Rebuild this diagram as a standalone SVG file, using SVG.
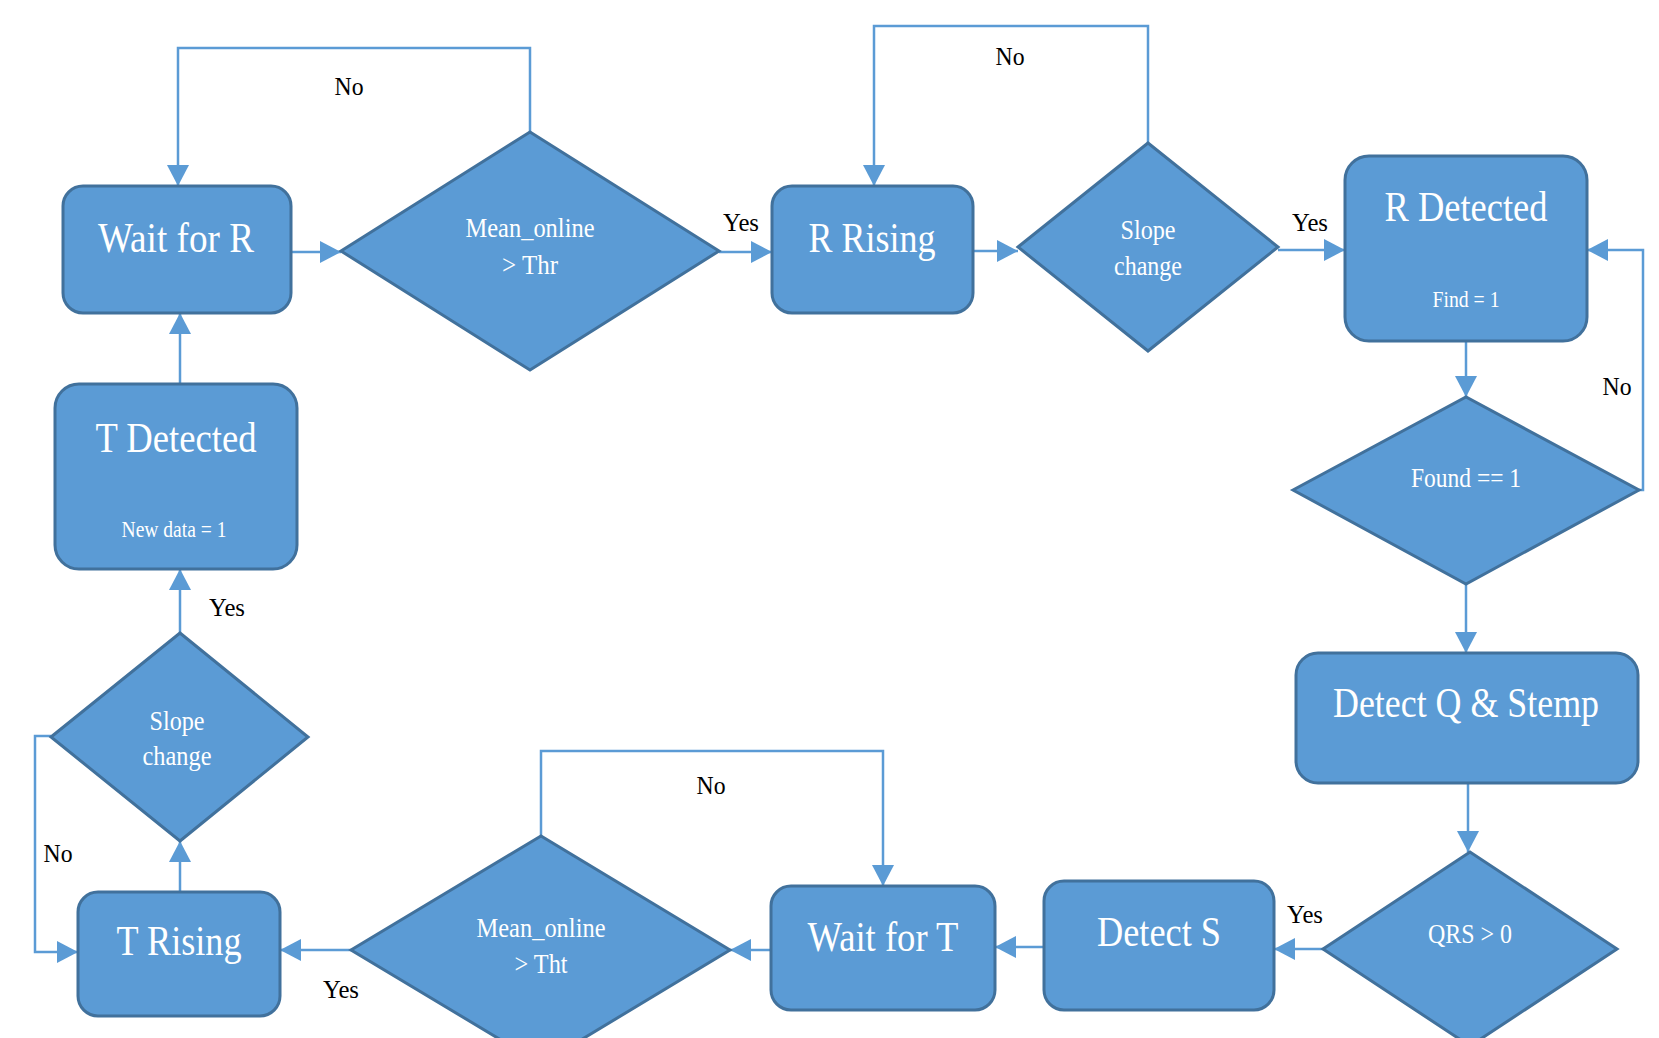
<svg xmlns="http://www.w3.org/2000/svg" width="1659" height="1038" viewBox="0 0 1659 1038">
<defs>
<style>
.node{fill:#5B9BD5;stroke:#41719C;stroke-width:3}
.conn{fill:none;stroke:#5B9BD5;stroke-width:2.5}
.t{font-family:"Liberation Serif","Times New Roman",serif;fill:#ffffff;text-anchor:middle}
.big{font-size:42px}
.mid{font-size:27px}
.sm{font-size:24px}
.lbl{font-family:"Liberation Serif","Times New Roman",serif;fill:#000000;font-size:26px;text-anchor:middle}
</style>
<marker id="ah" markerUnits="userSpaceOnUse" markerWidth="22" markerHeight="22" refX="21" refY="11" orient="auto">
<path d="M0,0 L21,11 L0,22 z" fill="#5B9BD5"/>
</marker>
</defs>
<rect width="1659" height="1038" fill="#ffffff"/>
<g id="connectors">
<path class="conn" d="M291,252 H341" marker-end="url(#ah)"/>
<path class="conn" d="M719,252 H772" marker-end="url(#ah)"/>
<path class="conn" d="M530,132 V48 H178 V186" marker-end="url(#ah)"/>
<path class="conn" d="M973,251 H1018" marker-end="url(#ah)"/>
<path class="conn" d="M1278,250 H1345" marker-end="url(#ah)"/>
<path class="conn" d="M1148,143 V26 H874 V186" marker-end="url(#ah)"/>
<path class="conn" d="M1466,341 V397" marker-end="url(#ah)"/>
<path class="conn" d="M1639,490 H1643 V250 H1587" marker-end="url(#ah)"/>
<path class="conn" d="M1466,584 V653" marker-end="url(#ah)"/>
<path class="conn" d="M1468,783 V852" marker-end="url(#ah)"/>
<path class="conn" d="M1323,949 H1274" marker-end="url(#ah)"/>
<path class="conn" d="M1044,947 H995" marker-end="url(#ah)"/>
<path class="conn" d="M771,950 H730" marker-end="url(#ah)"/>
<path class="conn" d="M541,836 V751 H883 V886" marker-end="url(#ah)"/>
<path class="conn" d="M351,950 H280" marker-end="url(#ah)"/>
<path class="conn" d="M180,892 V841" marker-end="url(#ah)"/>
<path class="conn" d="M51,736 H35 V952 H78" marker-end="url(#ah)"/>
<path class="conn" d="M180,633 V569" marker-end="url(#ah)"/>
<path class="conn" d="M180,384 V313" marker-end="url(#ah)"/>
<text class="lbl" x="349" y="95" textLength="29" lengthAdjust="spacingAndGlyphs">No</text>
<text class="lbl" x="741" y="231" textLength="36" lengthAdjust="spacingAndGlyphs">Yes</text>
<text class="lbl" x="1010" y="65" textLength="29" lengthAdjust="spacingAndGlyphs">No</text>
<text class="lbl" x="1310" y="231" textLength="36" lengthAdjust="spacingAndGlyphs">Yes</text>
<text class="lbl" x="1617" y="395" textLength="29" lengthAdjust="spacingAndGlyphs">No</text>
<text class="lbl" x="1305" y="923" textLength="36" lengthAdjust="spacingAndGlyphs">Yes</text>
<text class="lbl" x="711" y="794" textLength="29" lengthAdjust="spacingAndGlyphs">No</text>
<text class="lbl" x="341" y="998" textLength="36" lengthAdjust="spacingAndGlyphs">Yes</text>
<text class="lbl" x="58" y="862" textLength="29" lengthAdjust="spacingAndGlyphs">No</text>
<text class="lbl" x="227" y="616" textLength="36" lengthAdjust="spacingAndGlyphs">Yes</text>
</g>
<g id="wait-for-r">
<rect class="node" x="63" y="186" width="228" height="127" rx="20"/>
<text class="t big" x="176" y="252" textLength="156" lengthAdjust="spacingAndGlyphs">Wait for R</text>
</g>
<g id="mean-thr">
<polygon class="node" points="341,251 530,132 719,251 530,370"/>
<text class="t mid" x="530" y="237" textLength="129" lengthAdjust="spacingAndGlyphs">Mean_online</text>
<text class="t mid" x="530" y="274" textLength="56" lengthAdjust="spacingAndGlyphs">&gt; Thr</text>
</g>
<g id="r-rising">
<rect class="node" x="772" y="186" width="201" height="127" rx="20"/>
<text class="t big" x="872" y="252" textLength="127" lengthAdjust="spacingAndGlyphs">R Rising</text>
</g>
<g id="slope-r">
<polygon class="node" points="1018,247 1148,143 1278,247 1148,351"/>
<text class="t mid" x="1148" y="239" textLength="55" lengthAdjust="spacingAndGlyphs">Slope</text>
<text class="t mid" x="1148" y="275" textLength="68" lengthAdjust="spacingAndGlyphs">change</text>
</g>
<g id="r-detected">
<rect class="node" x="1345" y="156" width="242" height="185" rx="24"/>
<text class="t big" x="1466" y="221" textLength="163" lengthAdjust="spacingAndGlyphs">R Detected</text>
<text class="t sm" x="1466" y="307" textLength="67" lengthAdjust="spacingAndGlyphs">Find = 1</text>
</g>
<g id="found">
<polygon class="node" points="1293,490 1466,397 1639,490 1466,584"/>
<text class="t mid" x="1466" y="487" textLength="110" lengthAdjust="spacingAndGlyphs">Found == 1</text>
</g>
<g id="detect-q">
<rect class="node" x="1296" y="653" width="342" height="130" rx="22"/>
<text class="t big" x="1466" y="717" textLength="266" lengthAdjust="spacingAndGlyphs">Detect Q &amp; Stemp</text>
</g>
<g id="qrs">
<polygon class="node" points="1323,949 1470,852 1617,949 1470,1046"/>
<text class="t mid" x="1470" y="943" textLength="84" lengthAdjust="spacingAndGlyphs">QRS &gt; 0</text>
</g>
<g id="detect-s">
<rect class="node" x="1044" y="881" width="230" height="129" rx="20"/>
<text class="t big" x="1159" y="946" textLength="124" lengthAdjust="spacingAndGlyphs">Detect S</text>
</g>
<g id="wait-for-t">
<rect class="node" x="771" y="886" width="224" height="124" rx="20"/>
<text class="t big" x="883" y="951" textLength="151" lengthAdjust="spacingAndGlyphs">Wait for T</text>
</g>
<g id="mean-tht">
<polygon class="node" points="351,950 541,836 730,950 541,1064"/>
<text class="t mid" x="541" y="937" textLength="129" lengthAdjust="spacingAndGlyphs">Mean_online</text>
<text class="t mid" x="541" y="973" textLength="53" lengthAdjust="spacingAndGlyphs">&gt; Tht</text>
</g>
<g id="t-rising">
<rect class="node" x="78" y="892" width="202" height="124" rx="20"/>
<text class="t big" x="179" y="955" textLength="125" lengthAdjust="spacingAndGlyphs">T Rising</text>
</g>
<g id="slope-t">
<polygon class="node" points="51,737 180,633 308,737 180,841"/>
<text class="t mid" x="177" y="730" textLength="55" lengthAdjust="spacingAndGlyphs">Slope</text>
<text class="t mid" x="177" y="765" textLength="69" lengthAdjust="spacingAndGlyphs">change</text>
</g>
<g id="t-detected">
<rect class="node" x="55" y="384" width="242" height="185" rx="24"/>
<text class="t big" x="176" y="452" textLength="161" lengthAdjust="spacingAndGlyphs">T Detected</text>
<text class="t sm" x="174" y="537" textLength="105" lengthAdjust="spacingAndGlyphs">New data = 1</text>
</g>
</svg>
